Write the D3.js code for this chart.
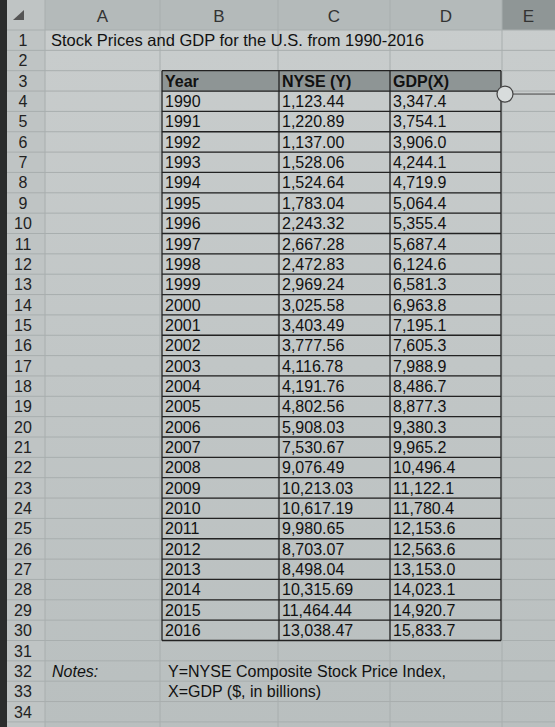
<!DOCTYPE html>
<html><head><meta charset="utf-8">
<script src="https://cdn.jsdelivr.net/npm/d3@7"></script>
<style>body{margin:0;background:#2a2c2c}</style>
</head><body>
<script>
var years = d3.range(1990, 2017);
var nyse = [1123.44,1220.89,1137.00,1528.06,1524.64,1783.04,2243.32,2667.28,2472.83,2969.24,3025.58,3403.49,3777.56,4116.78,4191.76,4802.56,5908.03,7530.67,9076.49,10213.03,10617.19,9980.65,8703.07,8498.04,10315.69,11464.44,13038.47];
var gdp = [3347.4,3754.1,3906.0,4244.1,4719.9,5064.4,5355.4,5687.4,6124.6,6581.3,6963.8,7195.1,7605.3,7988.9,8486.7,8877.3,9380.3,9965.2,10496.4,11122.1,11780.4,12153.6,12563.6,13153.0,14023.1,14920.7,15833.7];
var colLetters = ['A','B','C','D','E'];
var colEdges = [45,160,278,390,502,555];

var width = 555, height = 727;
var svg = d3.select('body').append('svg').attr('width', width).attr('height', height);
var defs = svg.append('defs');
var grad = defs.append('linearGradient').attr('id','bg').attr('x1',0).attr('y1',0).attr('x2',0).attr('y2',1);
grad.append('stop').attr('offset',0).attr('stop-color','#c9cdcd');
grad.append('stop').attr('offset',1).attr('stop-color','#b9bfbf');

svg.append('rect').attr('x',7).attr('y',0).attr('width',width).attr('height',height).attr('fill','url(#bg)');

var y = d3.scaleLinear().domain([0, 34]).range([30, 30 + 34 * 20.35]);
var font = 'Liberation Sans, Arial, sans-serif';
var fs = 16;

svg.append('rect').attr('x',7).attr('y',0).attr('width',width).attr('height',30).attr('fill','#b4baba');
svg.append('rect').attr('x',7).attr('y',0).attr('width',38).attr('height',height).attr('fill','#bfc4c4');
svg.append('rect').attr('x',502).attr('y',0).attr('width',60).attr('height',30).attr('fill','#8f9696');

svg.selectAll('line.h').data(d3.range(0, 35)).enter().append('line')
  .attr('x1',7).attr('x2',width).attr('y1',function(d){return y(d);}).attr('y2',function(d){return y(d);})
  .attr('stroke','#a8aeae').attr('stroke-width',1);
svg.selectAll('line.v').data(colEdges.slice(0,5)).enter().append('line')
  .attr('x1',function(d){return d;}).attr('x2',function(d){return d;}).attr('y1',0).attr('y2',height)
  .attr('stroke','#a8aeae');

svg.selectAll('text.col').data(colLetters).enter().append('text')
  .attr('x',function(d,i){return (colEdges[i]+colEdges[i+1])/2;}).attr('y',22)
  .attr('text-anchor','middle').attr('font-family',font).attr('font-size',17).attr('fill','#333')
  .text(function(d){return d;});
svg.append('path').attr('d','M13,20 L24,10 L24,20 Z').attr('fill','#555');

svg.selectAll('text.row').data(d3.range(1, 35)).enter().append('text')
  .attr('x',23).attr('y',function(d){return y(d-1)+16;}).attr('text-anchor','middle')
  .attr('font-family',font).attr('font-size',fs).attr('fill','#222')
  .text(function(d){return d;});

svg.append('text').attr('x',51).attr('y',y(0)+16).attr('font-family',font).attr('font-size',16.5).attr('fill','#111')
  .text('Stock Prices and GDP for the U.S. from 1990-2016');

var tx = [162, 279, 390, 501];
svg.append('rect').attr('x',tx[0]).attr('y',y(2)).attr('width',tx[3]-tx[0]).attr('height',y(3)-y(2)).attr('fill','#8e9595');
var headers = ['Year','NYSE (Y)','GDP(X)'];
svg.selectAll('text.hd').data(headers).enter().append('text')
  .attr('x',function(d,i){return tx[i]+3;}).attr('y',y(2)+16)
  .attr('font-family',font).attr('font-size',fs).attr('font-weight','bold').attr('fill','#111')
  .text(function(d){return d;});

var fmt2 = d3.format(',.2f'), fmt1 = d3.format(',.1f');
var rows = svg.selectAll('g.r').data(years).enter().append('g')
  .attr('transform',function(d,i){return 'translate(0,'+y(i+3)+')';});
rows.append('text').attr('x',tx[0]+3).attr('y',16).text(function(d){return d;});
rows.append('text').attr('x',tx[1]+3).attr('y',16).text(function(d,i){return fmt2(nyse[i]);});
rows.append('text').attr('x',tx[2]+3).attr('y',16).text(function(d,i){return fmt1(gdp[i]);});
rows.selectAll('text').attr('font-family',font).attr('font-size',fs).attr('fill','#111');

svg.selectAll('line.th').data(d3.range(2, 31)).enter().append('line')
  .attr('x1',tx[0]).attr('x2',tx[3]).attr('y1',function(d){return y(d);}).attr('y2',function(d){return y(d);})
  .attr('stroke','#222').attr('stroke-width',1.3);
svg.selectAll('line.tv').data(tx).enter().append('line')
  .attr('x1',function(d){return d;}).attr('x2',function(d){return d;}).attr('y1',y(2)).attr('y2',y(30))
  .attr('stroke','#222').attr('stroke-width',1.3);

svg.append('line').attr('x1',500).attr('x2',555).attr('y1',y(3)+3).attr('y2',y(3)+3).attr('stroke','#444');
svg.append('circle').attr('cx',505).attr('cy',y(3)+3).attr('r',8).attr('fill','#d8dcdc').attr('stroke','#444').attr('stroke-width',1.2);

svg.append('text').attr('x',52).attr('y',y(31)+16).attr('font-family',font).attr('font-size',fs).attr('font-style','italic').attr('fill','#111').text('Notes:');
svg.append('text').attr('x',168).attr('y',y(31)+16).attr('font-family',font).attr('font-size',fs).attr('fill','#111').text('Y=NYSE Composite Stock Price Index,');
svg.append('text').attr('x',168).attr('y',y(32)+16).attr('font-family',font).attr('font-size',fs).attr('fill','#111').text('X=GDP ($, in billions)');
</script>
</body></html>
